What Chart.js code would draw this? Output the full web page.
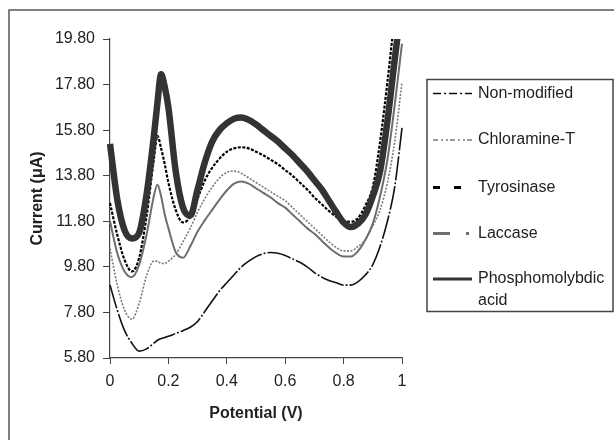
<!DOCTYPE html>
<html>
<head>
<meta charset="utf-8">
<script src="https://cdn.jsdelivr.net/npm/chart.js@4.4.1/dist/chart.umd.min.js"></script>
<style>
  html, body { margin: 0; padding: 0; background: #fff; }
  canvas { display: block; }
</style>
</head>
<body>
<canvas id="myChart" width="614" height="440"></canvas>
<script>
'use strict';

// potential (V), shared by every curve
const potential = [0, 0.025, 0.05, 0.075, 0.1, 0.125, 0.15, 0.1625, 0.175, 0.1875,
  0.2, 0.225, 0.25, 0.275, 0.3, 0.325, 0.35, 0.375, 0.4, 0.425,
  0.45, 0.475, 0.5, 0.525, 0.55, 0.575, 0.6, 0.625, 0.65, 0.675,
  0.7, 0.725, 0.75, 0.775, 0.8, 0.825, 0.85, 0.875, 0.9, 0.925,
  0.95, 0.975, 1];

// current (uA)
const nonModified = [9.0, 7.9, 7.0, 6.45, 6.1, 6.2, 6.45, 6.58, 6.65, 6.7,
  6.75, 6.88, 7.0, 7.15, 7.4, 7.85, 8.3, 8.75, 9.1, 9.45,
  9.8, 10.05, 10.25, 10.38, 10.43, 10.4, 10.3, 10.15, 10.0, 9.8,
  9.55, 9.35, 9.2, 9.1, 9.0, 9.0, 9.15, 9.45, 9.9, 10.7,
  11.8, 13.3, 15.9];
const chloramineT = [10.6, 9.0, 7.9, 7.5, 8.2, 9.4, 10.05, 10.05, 9.95, 9.95,
  10.05, 10.35, 10.9, 11.5, 12.2, 12.8, 13.3, 13.7, 13.95, 14.0,
  13.9, 13.7, 13.5, 13.3, 13.1, 12.9, 12.7, 12.4, 12.1, 11.8,
  11.5, 11.2, 10.9, 10.65, 10.5, 10.5, 10.7, 11.0, 11.6, 12.3,
  13.5, 15.3, 17.9];
const tyrosinase = [12.6, 11.2, 10.1, 9.6, 10.2, 12.0, 14.5, 15.55, 15.0, 14.3,
  13.5, 12.3, 11.75, 12.0, 12.8, 13.6, 14.15, 14.55, 14.85, 15.0,
  15.05, 15.0, 14.85, 14.7, 14.5, 14.3, 14.05, 13.8, 13.5, 13.2,
  12.85, 12.55, 12.25, 12.0, 11.8, 11.78, 11.95, 12.5, 13.3, 15.3,
  17.9, 20.8, 23.5];
const laccase = [11.8, 10.4, 9.6, 9.35, 9.9, 11.2, 12.9, 13.4, 12.9, 12.1,
  11.5, 10.45, 10.2, 10.7, 11.35, 11.85, 12.3, 12.75, 13.15, 13.45,
  13.55, 13.45, 13.25, 13.05, 12.85, 12.6, 12.4, 12.1, 11.8, 11.5,
  11.25, 10.95, 10.65, 10.4, 10.25, 10.25, 10.5, 11.0, 11.7, 12.9,
  14.5, 16.9, 19.6];
const phosphomolybdic = [15.2, 12.75, 11.4, 11.05, 11.3, 12.95, 15.5, 17.0, 18.25, 17.7,
  16.8, 14.0, 12.4, 12.05, 13.2, 14.4, 15.3, 15.8, 16.1, 16.3,
  16.35, 16.25, 16.05, 15.8, 15.55, 15.3, 15.0, 14.7, 14.35, 14.0,
  13.6, 13.2, 12.7, 12.2, 11.75, 11.55, 11.7, 12.1, 12.9, 14.0,
  16.2, 18.9, 21.5];

const seriesNames = ['Non-modified', 'Chloramine-T', 'Tyrosinase', 'Laccase', 'Phosphomolybdic acid'];
const legendLines = [['Non-modified'], ['Chloramine-T'], ['Tyrosinase'], ['Laccase'], ['Phosphomolybdic', 'acid']];
const yTickValues = [5.8, 7.8, 9.8, 11.8, 13.8, 15.8, 17.8, 19.8];
const xTickValues = [0, 0.2, 0.4, 0.6, 0.8, 1];

const allSeries = [nonModified, chloramineT, tyrosinase, laccase, phosphomolybdic];

// look of each curve (plot) and its legend sample
const styles = [
  {color: '#111', width: 1.6, dash: [24, 2, 2, 2], legendDash: [8, 3, 2, 3], legendWidth: 1.5, order: 3},
  {color: '#7a7a7a', width: 1.6, dash: [2, 1.5], legendDash: [5, 3, 2, 3, 2, 2], legendWidth: 1.5, order: 4},
  {color: '#000', width: 2.2, dash: [3, 1.5], legendDash: [7, 14], legendWidth: 3, order: 2},
  {color: '#6e6e6e', width: 2, dash: [], legendDash: [17, 16, 3, 20], legendWidth: 3, order: 1},
  {color: '#333', width: 6.5, dash: [], legendDash: [], legendWidth: 3, order: 0},
];

const FONT = 'Liberation Sans, Arial, sans-serif';

function makeDatasets() {
  return allSeries.map((values, i) => ({
    label: seriesNames[i],
    data: values.map((v, k) => ({x: potential[k], y: v})),
    borderColor: styles[i].color,
    borderWidth: styles[i].width,
    borderDash: styles[i].dash,
    pointRadius: 0,
    fill: false,
    cubicInterpolationMode: 'monotone',
    order: styles[i].order,
    clip: {left: 3, top: 0, right: 2, bottom: 3},
  }));
}

// outer frame and white background
const framePlugin = {
  id: 'frame',
  beforeDraw(chart) {
    const ctx = chart.ctx;
    ctx.save();
    ctx.fillStyle = '#fff';
    ctx.fillRect(0, 0, chart.width, chart.height);
    ctx.strokeStyle = '#555';
    ctx.lineWidth = 1.5;
    ctx.strokeRect(9, 10, 700, 500);
    ctx.restore();
  }
};

// boxed legend on the right
const boxLegend = {
  id: 'boxLegend',
  afterDraw(chart) {
    const ctx = chart.ctx;
    const rowY = [93.5, 140, 187.5, 233.5, 279];
    ctx.save();
    ctx.strokeStyle = '#444';
    ctx.lineWidth = 1.5;
    ctx.strokeRect(427, 79.5, 186, 232);
    ctx.font = '16px ' + FONT;
    ctx.fillStyle = '#222';
    ctx.textBaseline = 'middle';
    legendLines.forEach((lines, i) => {
      const s = styles[i];
      ctx.beginPath();
      ctx.setLineDash(s.legendDash);
      ctx.strokeStyle = s.color;
      ctx.lineWidth = s.legendWidth;
      ctx.moveTo(433, rowY[i]);
      ctx.lineTo(472, rowY[i]);
      ctx.stroke();
      ctx.setLineDash([]);
      lines.forEach((t, j) => ctx.fillText(t, 478, rowY[i] + j * 21.5));
    });
    ctx.restore();
  }
};

Chart.defaults.font.family = FONT;
Chart.defaults.font.size = 16;
Chart.defaults.color = '#222';

new Chart(document.getElementById('myChart'), {
  type: 'line',
  data: {datasets: makeDatasets()},
  plugins: [framePlugin, boxLegend],
  options: {
    responsive: false,
    animation: false,
    layout: {padding: {left: 0, top: 39, right: 212, bottom: 0}},
    plugins: {
      legend: {display: false},
      tooltip: {enabled: false},
    },
    scales: {
      x: {
        type: 'linear',
        min: 0,
        max: 1,
        afterBuildTicks: scale => { scale.ticks = xTickValues.map(v => ({value: v})); },
        afterFit: scale => { scale.height = 82; },
        ticks: {
          padding: 8,
          maxRotation: 0,
          callback: v => String(v),
        },
        grid: {drawOnChartArea: false, drawTicks: true, tickLength: 6, color: '#444'},
        border: {display: true, color: '#444', width: 1.2},
        title: {display: true, text: 'Potential (V)', font: {weight: 'bold', size: 16}, padding: {top: 4, bottom: 17}},
      },
      y: {
        type: 'linear',
        min: 5.8,
        max: 19.8,
        afterBuildTicks: scale => { scale.ticks = yTickValues.map(v => ({value: v})); },
        afterFit: scale => { scale.width = 110; },
        ticks: {
          padding: 8,
          callback: v => v.toFixed(2),
        },
        grid: {drawOnChartArea: false, drawTicks: true, tickLength: 7, color: '#444'},
        border: {display: true, color: '#444', width: 1.2},
        title: {display: true, text: 'Current (\u03bcA)', font: {weight: 'bold', size: 16}, padding: {top: 28, bottom: 4}},
      }
    }
  }
});
</script>
</body>
</html>
